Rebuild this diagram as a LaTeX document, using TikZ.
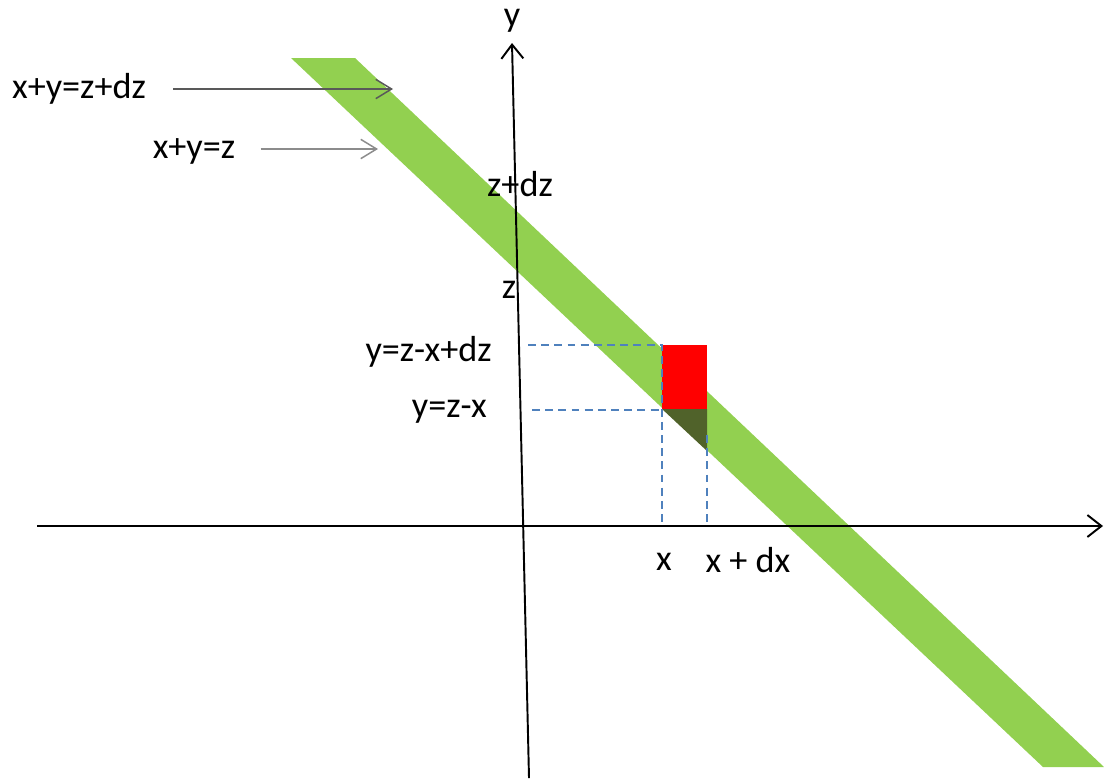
\documentclass[tikz,border=0pt]{standalone}
\usepackage{fontspec}
\setmainfont{Carlito}
\usetikzlibrary{arrows.meta}
\definecolor{bandgreen}{RGB}{146,208,80}
\definecolor{darkolive}{RGB}{80,98,42}
\definecolor{guideblue}{RGB}{79,129,189}
\definecolor{darkarrow}{RGB}{89,89,89}
\definecolor{lightarrow}{RGB}{140,140,140}

\begin{document}
\begin{tikzpicture}[x=0.02cm,y=-0.02cm, every node/.style={font=\fontsize{20.6}{24}\selectfont,inner sep=0pt},
    axis/.style={line width=1.1pt,-{Straight Barb[length=8pt,width=12.5pt]}},
    pointer/.style={line width=0.85pt,-{Straight Barb[length=9pt,width=11pt]}},
    guide/.style={guideblue,line width=1.1pt,dash pattern=on 4.5pt off 3pt}]
      \useasboundingbox (0,0) rectangle (1104,778);
      \fill[bandgreen] (291,58) -- (355,58) -- (1104,767) -- (1043,767) -- cycle;
      \fill[red] (662,345) rectangle (707,409);
      \fill[darkolive] (662,409) -- (707,409) -- (707,451) -- cycle;
      \draw[guide] (528,345) -- (662,345) -- (662,524);
      \draw[guide] (532,410) -- (662,410);
      \draw[guide] (707,435) -- (707,524);
      \coordinate (xfrom) at (37,526);
      \coordinate (xto) at (1103,526);
      \coordinate (yfrom) at (529,778);
      \coordinate (yto) at (512,43);
      \draw[axis] (xfrom) -- (xto);
      \draw[axis] (yfrom) -- (yto);
      \node (ylabel) at (512,21) {y};
      \node (zdz) at (520,184) {z+dz};
      \node (zlabel) at (509,290) {z};
      \node[anchor=east] (upper) at (492,352) {y=z-x+dz};
      \node[anchor=east] (lower) at (487,412) {y=z-x};
      \node (xlabel) at (664,562) {x};
      \node (xdx) at (748,560) {x + dx};
      \node (lblhigh) at (79,89) {x+y=z+dz};
      \node (lbllow) at (194,151) {x+y=z};
      \coordinate (tiphigh) at (393,89);
      \coordinate (tiplow) at (378,149);
      \draw[pointer,darkarrow] ([xshift=0.54cm]lblhigh.east) -- (tiphigh);
      \draw[pointer,lightarrow] ([xshift=0.5cm]lbllow.east |- tiplow) -- (tiplow);
    \end{tikzpicture}
\end{document}
